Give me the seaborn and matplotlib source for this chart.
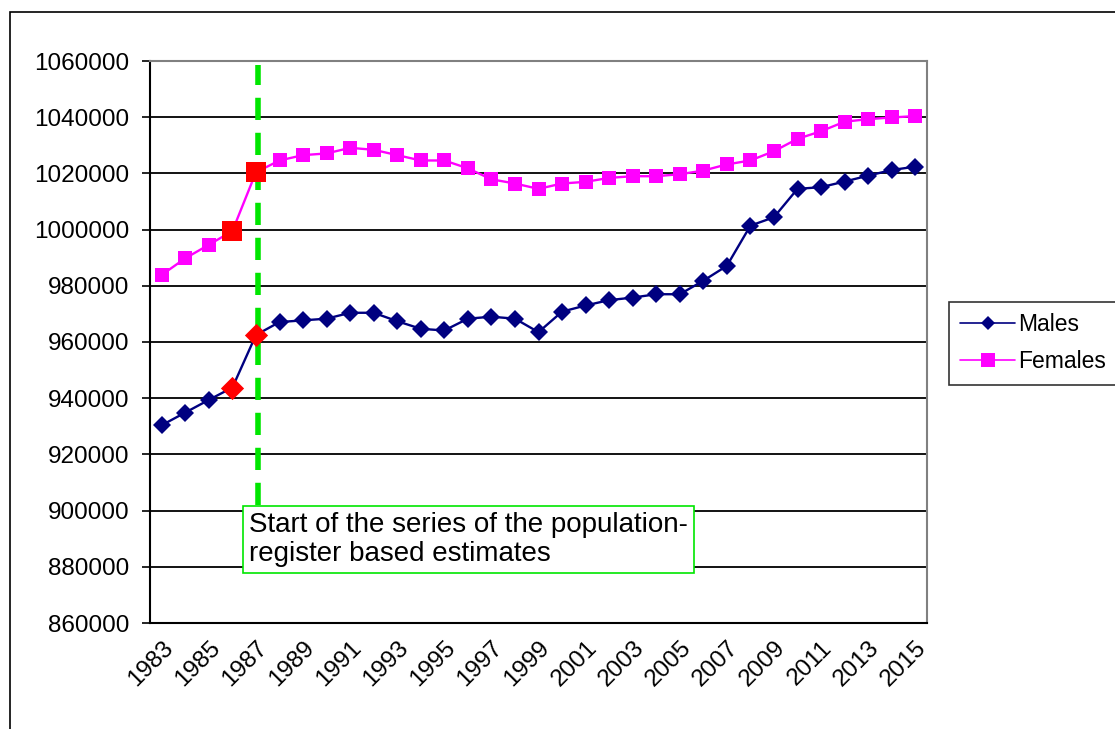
import pandas as pd
import matplotlib.pyplot as plt
import seaborn as sns
from matplotlib.patches import Rectangle

# Population by sex, 1983-2015
years = list(range(1983, 2016))
males = [930400, 934900, 939400, 943800, 962500, 967100, 967700, 968300, 970400, 970400,
         967400, 964700, 964100, 968300, 969000, 968300, 963500, 970800, 973000, 974900,
         975800, 977000, 977000, 981800, 987100, 1001400, 1004400, 1014500, 1015100, 1017100,
         1019200, 1021200, 1022400]
females = [983900, 989800, 994600, 999500, 1020400, 1024600, 1026500, 1027100, 1029100, 1028400,
           1026500, 1024600, 1024600, 1021800, 1017900, 1016400, 1014500, 1016400, 1017000, 1018400,
           1019000, 1019000, 1019700, 1021000, 1023200, 1024600, 1027900, 1032300, 1035000, 1038400,
           1039300, 1039900, 1040400]
highlight_years = [1986, 1987]
series_start = 1987
note = "Start of the series of the population-\nregister based estimates"

df = pd.DataFrame({
    "year": years * 2,
    "population": males + females,
    "sex": ["Males"] * len(years) + ["Females"] * len(years),
})
hl = df[df["year"].isin(highlight_years)]

sns.set_style("white")
plt.rcParams["font.family"] = ["Liberation Sans", "DejaVu Sans"]
plt.rcParams["text.color"] = "black"
plt.rcParams["xtick.color"] = "black"
plt.rcParams["ytick.color"] = "black"

fig = plt.figure(figsize=(11.15, 7.29), dpi=100)
ax = fig.add_axes([150 / 1115, 1 - 623 / 729, 777 / 1115, 562 / 729])

# outer chart border (cropped on right/bottom)
fig.patches.append(Rectangle((10 / 1115, -0.1), 1.2, 1 - 12 / 729 + 0.1, transform=fig.transFigure,
                             fill=False, edgecolor="black", linewidth=1.2))

sns.lineplot(data=df, x="year", y="population", hue="sex", style="sex",
             palette={"Males": "#000080", "Females": "#ff00ff"},
             markers={"Males": "D", "Females": "s"}, dashes=False,
             markersize=8, linewidth=1.7, markeredgewidth=0, ax=ax, legend=False)
ax.lines[0].set_markersize(9)
ax.lines[1].set_markersize(10.5)

# red markers for the 1986/1987 values
sns.scatterplot(data=hl[hl["sex"] == "Males"], x="year", y="population", marker="D",
                color="#ff0000", s=140, linewidth=0, ax=ax, legend=False, zorder=5)
sns.scatterplot(data=hl[hl["sex"] == "Females"], x="year", y="population", marker="s",
                color="#ff0000", s=190, linewidth=0, ax=ax, legend=False, zorder=5)

# start of register-based series
ax.vlines(series_start + 0.08, 902000, 1058500, colors="#00e600", linewidth=4,
          linestyles=(0, (4, 2.3)), zorder=1)
ax.text(0.1273, 0.1486, note, transform=ax.transAxes, fontsize=20, va="center", ha="left",
        linespacing=1.15, zorder=6,
        bbox=dict(boxstyle="square,pad=0.22", facecolor="white", edgecolor="#00e600", linewidth=1.2))

ax.set_xlim(1982.5, 2015.5)
ax.set_ylim(860000, 1060000)
ax.set_yticks(range(860000, 1060001, 20000))
ax.set_yticklabels([str(v) for v in range(860000, 1060001, 20000)], fontsize=17.5)
ax.set_xticks(years[::2])
ax.set_xticklabels([str(y) for y in years[::2]], fontsize=17.5, rotation=45, ha="right",
                   rotation_mode="anchor")
ax.set_xticks([y - 0.5 for y in years] + [2015.5], minor=True)
ax.tick_params(axis="x", which="major", length=0, pad=10)
ax.tick_params(axis="x", which="minor", length=6, width=1.2, color="black", direction="out")
ax.tick_params(axis="y", length=6, width=1.2, color="black", direction="out", left=True, pad=9)
ax.set_xlabel("")
ax.set_ylabel("")

ax.grid(axis="y", color="black", linewidth=1.3)
ax.set_axisbelow(True)
for side in ["left", "bottom"]:
    ax.spines[side].set_color("black")
    ax.spines[side].set_linewidth(1.5)
for side in ["top", "right"]:
    ax.spines[side].set_color("#808080")
    ax.spines[side].set_linewidth(1.5)

leg = ax.legend(handles=[
    plt.Line2D([], [], color="#000080", marker="D", markersize=7, lw=1.2, markeredgewidth=0),
    plt.Line2D([], [], color="#ff00ff", marker="s", markersize=10, lw=1.2, markeredgewidth=0),
], labels=["Males", "Females"], loc="upper left", bbox_to_anchor=(949 / 1115, 1 - 302 / 729),
    bbox_transform=fig.transFigure, fontsize=16.5, frameon=True, fancybox=False,
    edgecolor="black", handlelength=2.4, handletextpad=0.1, borderpad=0.5, labelspacing=0.6,
    borderaxespad=0)
leg.get_frame().set_linewidth(1.2)

fig.savefig("out.png", dpi=100)
